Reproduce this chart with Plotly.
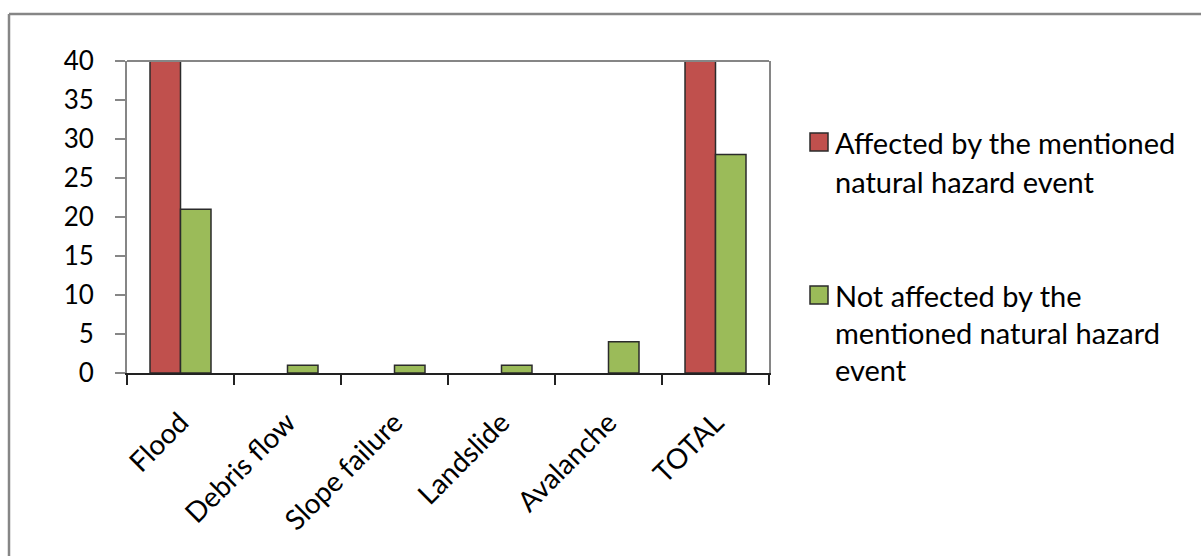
import plotly.graph_objects as go

# Survey counts per hazard type
categories = ["Flood", "Debris flow", "Slope failure", "Landslide", "Avalanche", "TOTAL"]
affected = [45, 0, 0, 0, 0, 45]
not_affected = [21, 1, 1, 1, 4, 28]

legend_lines = [
    ["Affected by the mentioned", "natural hazard event"],
    ["Not affected by the", "mentioned natural hazard", "event"],
]
series_names = [" ".join(l) for l in legend_lines]

RED = "#C0504D"
GREEN = "#9BBB59"
EDGE = "#2b2b2b"
GRID_GREY = "#868686"
FONT = "Lato, 'Open Sans', sans-serif"

W, H = 1201, 556
ML, MR, MT, MB = 127, 432, 61, 183
PW, PH = W - ML - MR, H - MT - MB


def px_x(x):
    return (x - ML) / PW


def px_y(y):
    return (H - MB - y) / PH


def edge_widths(values):
    # no outline on empty bars, so they don't leave a stub on the axis
    return [1.5 if v > 0 else 0 for v in values]


fig = go.Figure()
fig.add_trace(go.Bar(x=categories, y=affected, name=series_names[0],
                     marker=dict(color=RED, line=dict(color=EDGE, width=edge_widths(affected))),
                     showlegend=False))
fig.add_trace(go.Bar(x=categories, y=not_affected, name=series_names[1],
                     marker=dict(color=GREEN, line=dict(color=EDGE, width=edge_widths(not_affected))),
                     showlegend=False))

shapes = [
    # top edge of the plot area
    dict(type="line", xref="paper", yref="paper", x0=0, x1=1, y0=1, y1=1,
         line=dict(color=GRID_GREY, width=2)),
    # outer chart frame (top and left edges)
    dict(type="line", xref="paper", yref="paper", x0=px_x(9), x1=px_x(1210),
         y0=px_y(14), y1=px_y(14), line=dict(color=GRID_GREY, width=2.5)),
    dict(type="line", xref="paper", yref="paper", x0=px_x(9), x1=px_x(9),
         y0=px_y(14), y1=px_y(570), line=dict(color=GRID_GREY, width=2.5)),
]

annotations = []
legend_specs = [
    (RED, 133, [142, 181]),
    (GREEN, 286, [295, 332, 369]),
]
for (color, sq_top, line_ys), lines in zip(legend_specs, legend_lines):
    shapes.append(dict(type="rect", xref="paper", yref="paper",
                       x0=px_x(810), x1=px_x(828), y0=px_y(sq_top + 18), y1=px_y(sq_top),
                       fillcolor=color, line=dict(color=EDGE, width=1.5)))
    for txt, ly in zip(lines, line_ys):
        annotations.append(dict(text=txt, xref="paper", yref="paper",
                                x=px_x(833), y=px_y(ly), xanchor="left", yanchor="middle",
                                showarrow=False, font=dict(family=FONT, size=29, color="black")))

fig.update_layout(
    width=W, height=H, autosize=False,
    margin=dict(l=ML, r=MR, t=MT, b=MB, pad=0),
    paper_bgcolor="white", plot_bgcolor="white",
    barmode="group", bargap=0.43, bargroupgap=0,
    font=dict(family=FONT, size=26, color="black"),
    shapes=shapes, annotations=annotations,
)
fig.update_xaxes(
    showline=True, linecolor="#222222", linewidth=2,
    ticks="outside", tickson="boundaries", ticklen=10, tickwidth=2, tickcolor="#222222",
    tickangle=-45, tickfont=dict(family=FONT, size=28, color="black"),
    ticklabelstandoff=20,
    showgrid=False, zeroline=False,
)
fig.update_yaxes(
    range=[0, 40], dtick=5, tick0=0,
    showline=True, linecolor=GRID_GREY, linewidth=2, mirror=True,
    ticks="outside", ticklen=10, tickwidth=2, tickcolor=GRID_GREY,
    tickfont=dict(family=FONT, size=26, color="black"),
    ticklabelstandoff=16,
    showgrid=False, zeroline=False,
)

fig.write_html("out.html")
